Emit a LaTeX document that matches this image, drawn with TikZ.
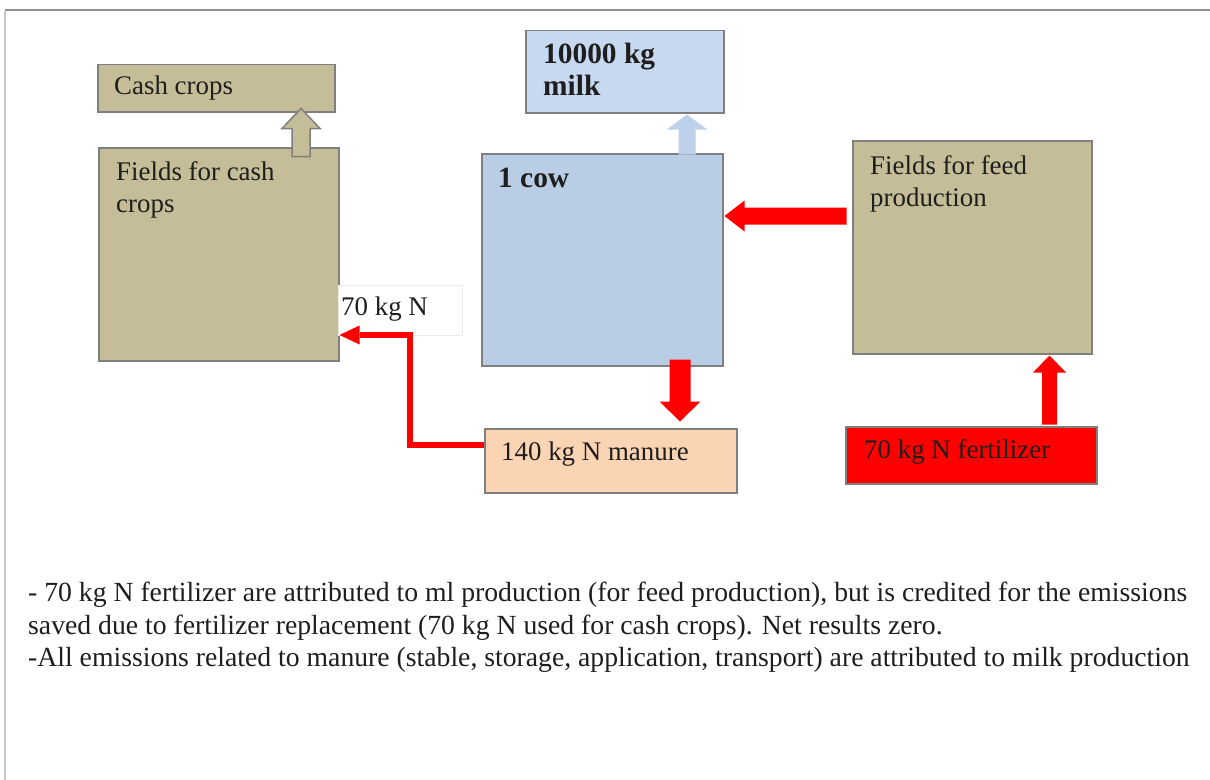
\documentclass[tikz,border=0pt]{standalone}
\usepackage{fontspec}
\setmainfont{Liberation Serif}
\usetikzlibrary{arrows.meta}

\definecolor{tanfill}{HTML}{C4BD97}
\definecolor{cowblue}{HTML}{B9CDE5}
\definecolor{milkblue}{HTML}{C6D9F1}
\definecolor{milkarrow}{HTML}{BDD1EA}
\definecolor{peach}{HTML}{FBD4B4}
\definecolor{edgegray}{HTML}{7F7F7F}
\definecolor{ink}{HTML}{1E1E1E}
\definecolor{frametop}{HTML}{8F8F8F}
\definecolor{frameleft}{HTML}{C8C8C8}

\begin{document}
\begin{tikzpicture}[x=1bp, y=-1bp,
  box/.style={draw=edgegray, line width=1.5bp, inner sep=0pt, anchor=north west},
  lbl/.style={anchor=north west, inner sep=0pt, align=left, text=ink,
              font=\fontsize{27}{32}\selectfont},
  boldlbl/.style={lbl, font=\fontsize{29.5}{32}\selectfont\bfseries},
  note/.style={anchor=north west, inner sep=0pt, align=left, text=ink,
               font=\fontsize{27.8}{33}\selectfont},
  blockred/.style={fill=red},
  flow/.style={draw=red, line width=6bp, line join=miter,
               -{Triangle[length=20bp, width=19bp, line width=0pt]}}
]
\useasboundingbox (0,0) rectangle (1210,780);

% page frame
\draw[frametop, line width=2bp] (5,10) -- (1210,10);
\draw[frameleft, line width=2bp] (5,11) -- (5,780);

% boxes
\node[box, fill=tanfill, minimum width=237bp, minimum height=47bp]  (cc)     at (97,64)   {};
\node[box, fill=tanfill, minimum width=240bp, minimum height=213bp] (fc)     at (98,147)  {};
\node[box, fill=milkblue, minimum width=198bp, minimum height=82bp] (milk)   at (525,30)  {};
\node[box, fill=cowblue, minimum width=241bp, minimum height=212bp] (cow)    at (481,153) {};
\node[box, fill=tanfill, minimum width=239bp, minimum height=213bp] (feed)   at (852,140) {};
\node[box, fill=peach, minimum width=252bp, minimum height=64bp]    (manure) at (484,428) {};
\node[box, fill=red, minimum width=251bp, minimum height=57bp]      (fert)   at (845,426) {};
\node[box, draw=black!8, line width=0.8bp, fill=white,
      minimum width=124bp, minimum height=50bp]                     (nbox)   at (338,285) {};

% box labels
\node[lbl, anchor=base west] (cctxt)   at (114,95)    {Cash crops};
\node[lbl]                   (fctxt)   at (116,161.5) {Fields for cash\\crops};
\node[boldlbl]               (milktxt) at (543,43)    {10000 kg\\milk};
\node[boldlbl, anchor=base west] (cowtxt) at (498,187) {1 cow};
\node[lbl]                   (feedtxt) at (870,155.5) {Fields for feed\\production};
\node[lbl, anchor=base west] (mantxt)  at (501,460)   {140 kg N manure};
\node[lbl, anchor=base west] (ferttxt) at (864,458)   {70 kg N fertilizer};
\node[lbl, anchor=base west] (ntxt)    at (341,315)   {70 kg N};

% reference columns / rows for the arrows
\coordinate (hx) at (301,0);
\coordinate (mx) at (687,0);
\coordinate (dx) at (680,0);
\coordinate (fx) at (1049.5,0);
\coordinate (fy) at (0,216);
\coordinate (bend) at (410,335);

% cash crops leave the fields (hollow block arrow)
\filldraw[fill=tanfill, draw=edgegray, line width=1.5bp, line join=miter]
  (cc.south -| hx) ++(0,-4) -- ++(19,20) -- ++(-10,0) -- ++(0,28)
  -- ++(-18,0) -- ++(0,-28) -- ++(-10,0) -- cycle;

% milk leaves the cow
\fill[milkarrow]
  (milk.south -| mx) ++(0,1) -- ++(20,15) -- ++(-11.5,0) -- ++(0,25)
  -- ++(-17,0) -- ++(0,-25) -- ++(-11.5,0) -- cycle;

% feed goes to the cow
\fill[blockred]
  (cow.east |- fy) ++(1,0) -- ++(20,-15.5) -- ++(0,7) -- ++(102,0)
  -- ++(0,17) -- ++(-102,0) -- ++(0,7) -- cycle;

% manure from the cow
\fill[blockred]
  (cow.south -| dx) ++(-10.5,-7) -- ++(21,0) -- ++(0,42) -- ++(10,0)
  -- ++(-20.5,20) -- ++(-20.5,-20) -- ++(10,0) -- cycle;

% fertilizer to the feed fields
\fill[blockred]
  (feed.south -| fx) ++(0,1) -- ++(16.5,17) -- ++(-9,0) -- ++(0,52)
  -- ++(-15,0) -- ++(0,-52) -- ++(-9,0) -- cycle;

% manure nitrogen to the cash crop fields
\draw[flow] (manure.west |- 0,445) -| (bend) -- (fc.east |- bend);

% explanatory notes
\node[note] (notes) at (28,581.5)
  {- 70 kg N fertilizer are attributed to ml production (for feed production), but is credited for the emissions\\
   saved due to fertilizer replacement (70 kg N used for cash crops). Net results zero.\\
   -All emissions related to manure (stable, storage, application, transport) are attributed to milk production};
\end{tikzpicture}
\end{document}
